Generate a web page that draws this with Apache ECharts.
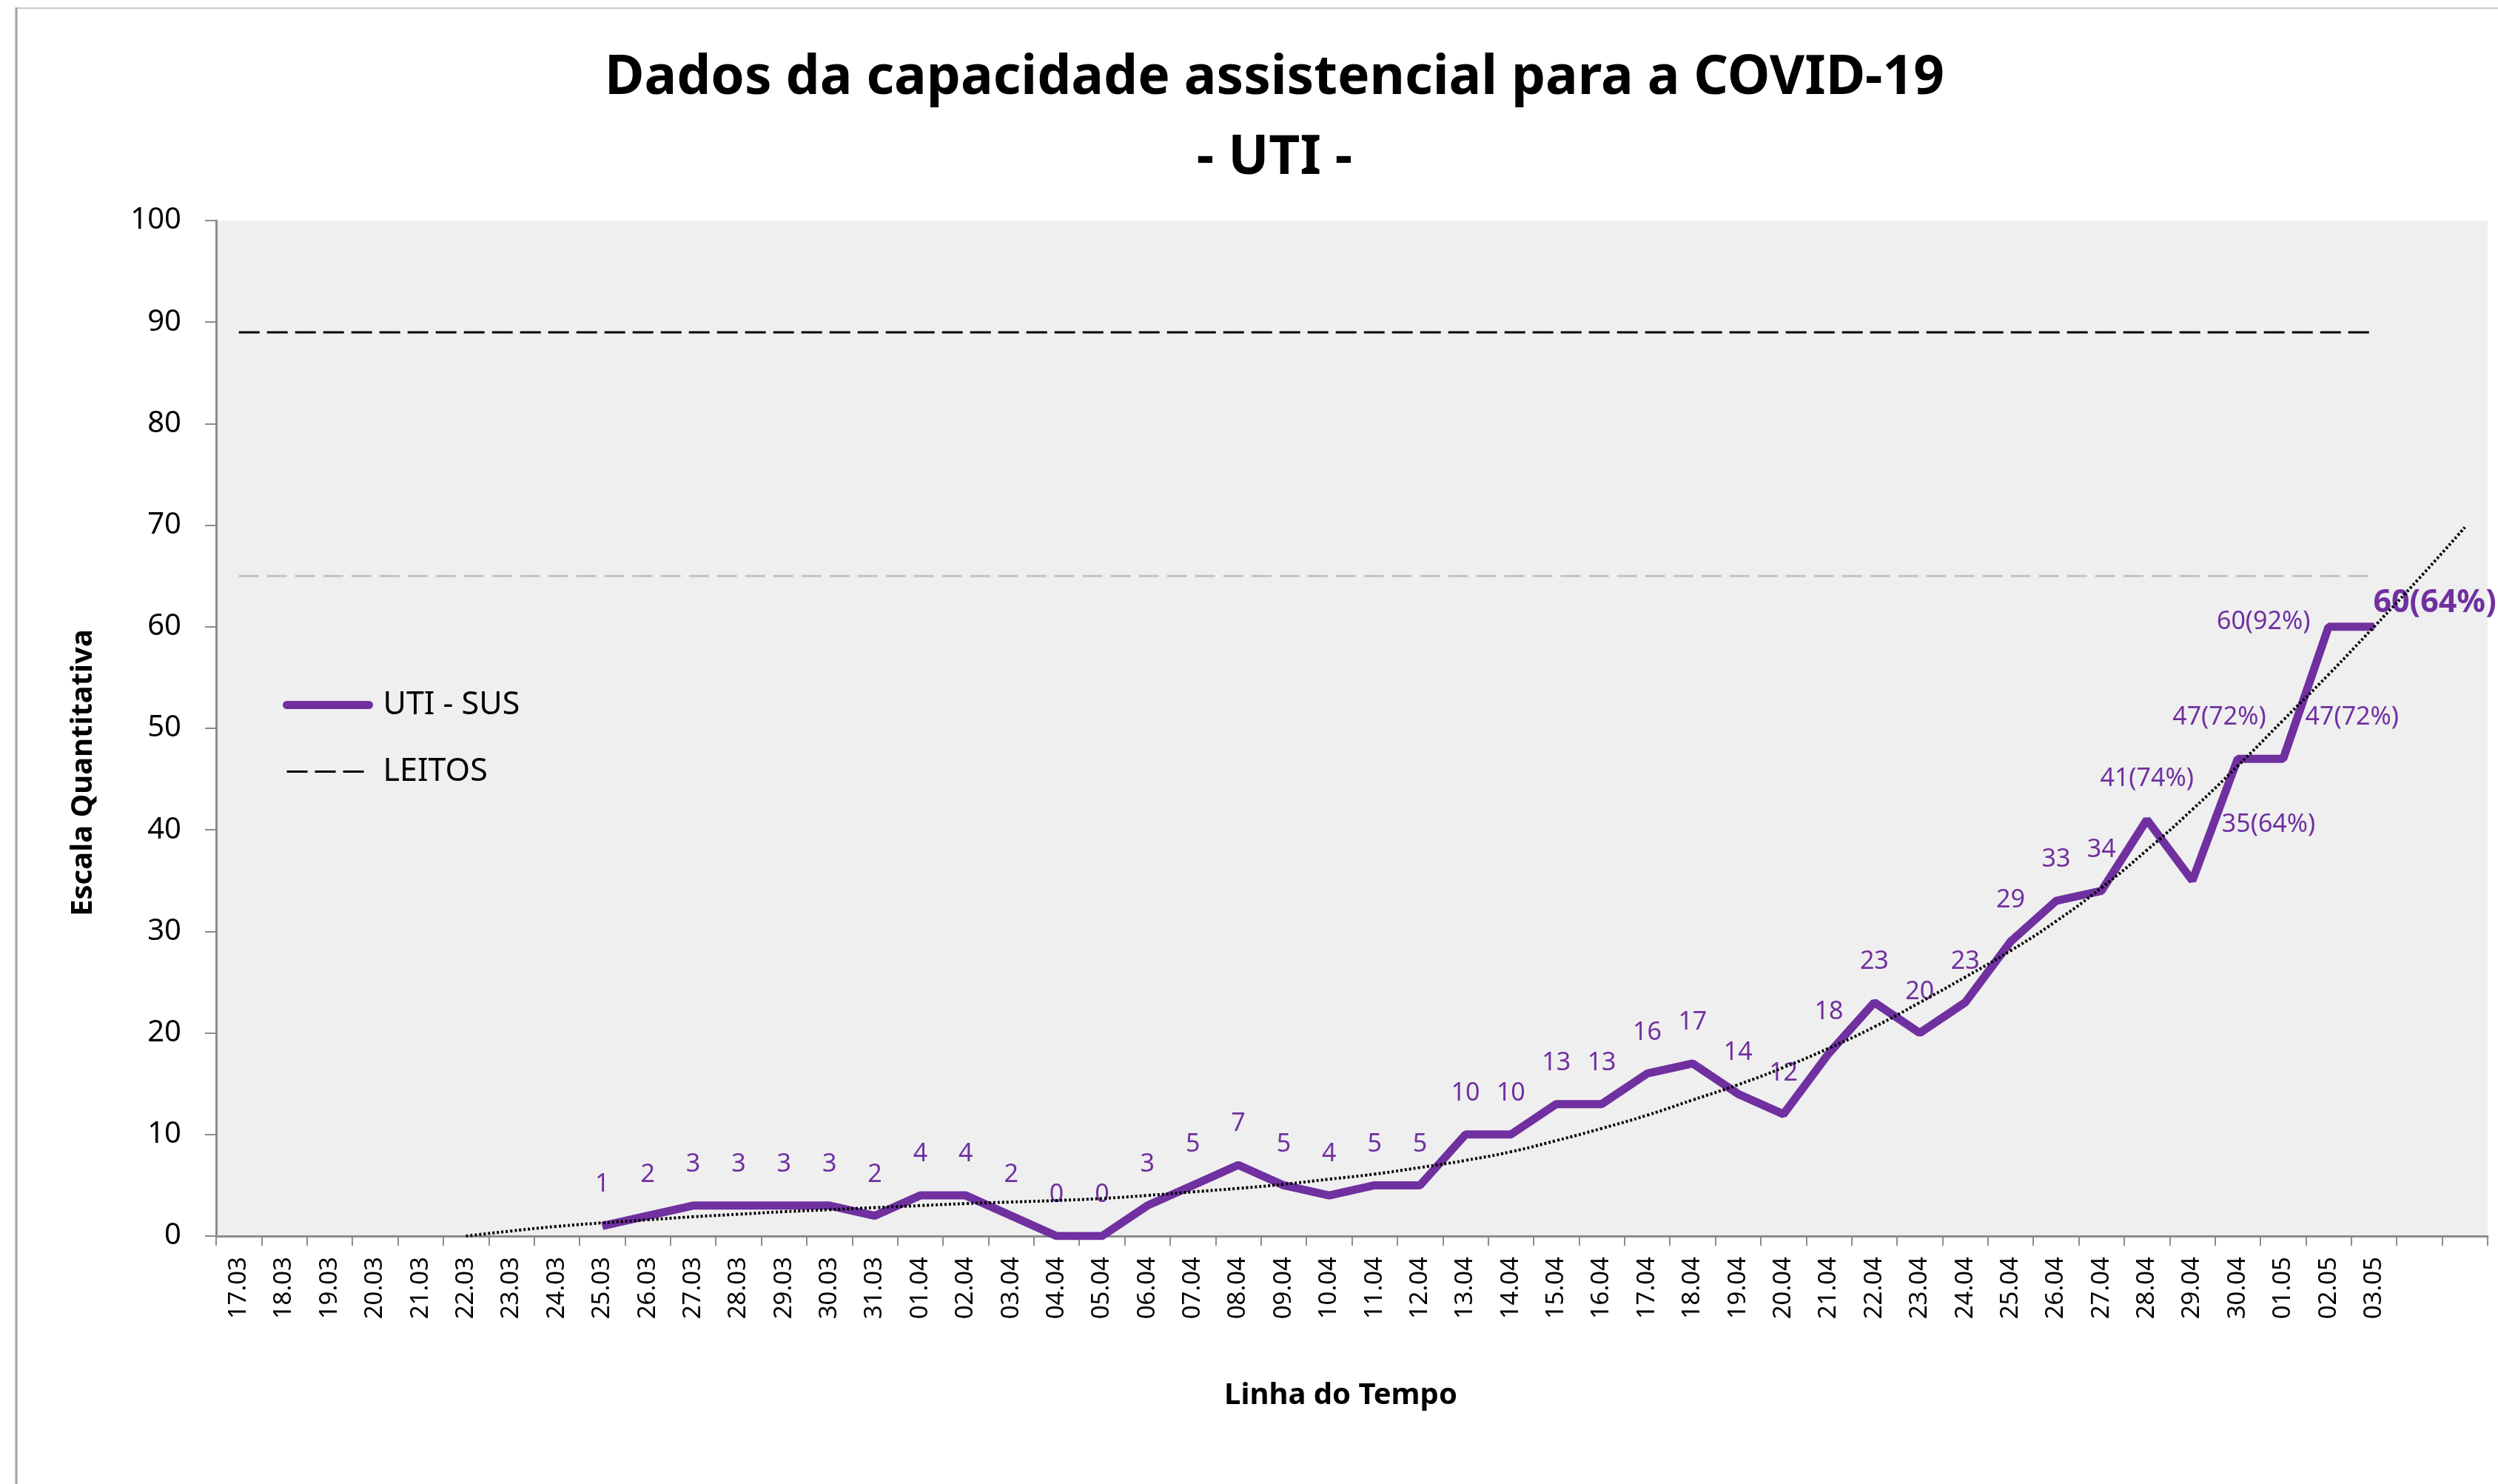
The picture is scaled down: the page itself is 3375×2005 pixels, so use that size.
<!DOCTYPE html>
<html><head><meta charset="utf-8">
<script src="https://cdn.jsdelivr.net/npm/echarts@6/dist/echarts.min.js"></script>
<style>html,body{margin:0;padding:0;background:#fff}#c{width:3375px;height:2005px}</style>
</head><body><div id="c"></div>
<script>
// ---------- DATA ----------
const categories = ['17.03','18.03','19.03','20.03','21.03','22.03','23.03','24.03','25.03','26.03','27.03','28.03','29.03','30.03','31.03',
  '01.04','02.04','03.04','04.04','05.04','06.04','07.04','08.04','09.04','10.04','11.04','12.04','13.04','14.04','15.04',
  '16.04','17.04','18.04','19.04','20.04','21.04','22.04','23.04','24.04','25.04','26.04','27.04','28.04','29.04','30.04',
  '01.05','02.05','03.05','',''];
const utiSus = [null,null,null,null,null,null,null,null,
  1,2,3,3,3,3,2,
  4,4,2,0,0,3,5,7,5,4,5,5,10,10,13,13,16,17,14,12,18,23,20,23,29,33,34,41,35,47,
  47,60,60,
  null,null];
const utiLabelText = {42:'41(74%)',43:'35(64%)',44:'47(72%)',45:'47(72%)',46:'60(92%)',47:'60(64%)'};
const leitos = [89,89,89,89,89,89,89,89,89,89,89,89,89,89,89,89,89,89,89,89,89,89,89,89,
  89,89,89,89,89,89,89,89,89,89,89,89,89,89,89,89,89,89,89,89,89,89,89,89,null,null];
const ref65 = [65,65,65,65,65,65,65,65,65,65,65,65,65,65,65,65,65,65,65,65,65,65,65,65,
  65,65,65,65,65,65,65,65,65,65,65,65,65,65,65,65,65,65,65,65,65,65,65,65,null,null];
const trend = [null,null,null,null,null,
  0,0.5,0.95,1.3,1.6,1.9,2.15,2.4,2.6,2.8,3.0,3.2,3.35,3.5,3.7,4.0,4.35,4.7,5.1,5.6,6.1,6.75,7.45,8.3,9.4,
  10.6,11.9,13.4,14.9,16.6,18.5,20.6,23.0,25.5,28.1,31.0,34.3,38.0,42.0,46.3,50.8,55.3,60.0,64.8,69.8];
const yTicks = {min:0, max:100, interval:10};

// ---------- STYLE ----------
const PURPLE = '#7030A0';
const FONT = 'Noto Sans';
const labelPlacement = {
  43: {offset:[103,-20]},
  44: {offset:[-25,0]},
  45: {offset:[93,0]},
  46: {offset:[-88,49]},
  47: {offset:[82,28], fontWeight:'bold', fontSize:43, lineHeight:43}
};

const utiData = utiSus.map((v,i)=>{
  if (v === null) return null;
  const item = {value:v};
  if (labelPlacement[i]) item.label = labelPlacement[i];
  return item;
});

const chart = echarts.init(document.getElementById('c'), null, {renderer:'canvas'});
chart.setOption({
  backgroundColor:'#ffffff',
  animation:false,
  title:{
    text:'Dados da capacidade assistencial para a COVID-19\n- UTI -',
    left:1717, top:47, textAlign:'center',
    textStyle:{fontFamily:FONT, fontWeight:'bold', fontSize:73, lineHeight:108, color:'#000'}
  },
  legend:{
    data:[
      {name:'UTI - SUS', itemStyle:{opacity:0}, lineStyle:{width:11, cap:'round', color:PURPLE}},
      {name:'LEITOS', itemStyle:{opacity:0}, lineStyle:{width:3, type:[28,10], color:'#000'}}
    ],
    orient:'vertical', left:382, top:931, itemGap:47, padding:0,
    itemWidth:111, itemHeight:12,
    textStyle:{fontFamily:FONT, fontSize:43, color:'#000', padding:[0,0,0,14]}
  },
  grid:{left:292, right:14, top:298, bottom:335, show:true, backgroundColor:'#efefef', borderWidth:0},
  xAxis:{
    type:'category', data:categories, boundaryGap:true,
    name:'Linha do Tempo', nameLocation:'middle', nameGap:196,
    nameTextStyle:{fontFamily:FONT, fontWeight:'bold', fontSize:40, color:'#000', padding:[0,30,0,0]},
    axisLine:{lineStyle:{color:'#8c8c8c', width:3}},
    axisTick:{show:true, interval:0, length:13, lineStyle:{color:'#8c8c8c', width:2}},
    axisLabel:{interval:0, rotate:90, fontFamily:FONT, fontSize:33, color:'#000', margin:28},
    splitLine:{show:false}
  },
  yAxis:{
    type:'value', min:yTicks.min, max:yTicks.max, interval:yTicks.interval,
    name:'Escala Quantitativa', nameLocation:'middle', nameGap:159, nameRotate:90,
    nameTextStyle:{fontFamily:FONT, fontWeight:'bold', fontSize:40, color:'#000', padding:[0,120,0,0]},
    axisLine:{show:true, lineStyle:{color:'#8c8c8c', width:3}},
    axisTick:{show:true, length:15, lineStyle:{color:'#8c8c8c', width:2}},
    axisLabel:{fontFamily:FONT, fontSize:40, color:'#000', margin:47},
    splitLine:{show:false}
  },
  series:[
    {
      name:'UTI - SUS', type:'line', data:utiData, z:3,
      symbol:'circle', symbolSize:1, showAllSymbol:true,
      itemStyle:{color:PURPLE},
      lineStyle:{color:PURPLE, width:11},
      label:{show:true, position:'top', distance:38, fontFamily:FONT, fontSize:34, lineHeight:34, color:PURPLE,
        formatter:p=> utiLabelText[p.dataIndex] !== undefined ? utiLabelText[p.dataIndex] : String(p.value)}
    },
    {
      name:'LEITOS', type:'line', data:leitos, z:2, symbol:'none',
      itemStyle:{color:'#000'},
      lineStyle:{color:'#000', width:3, type:[28,10]}
    },
    {
      name:'Referência', type:'line', data:ref65, z:2, symbol:'none',
      itemStyle:{color:'#c4c4c4'},
      lineStyle:{color:'#c4c4c4', width:3, type:[27,11]}
    },
    {
      name:'Tendência', type:'line', data:trend, z:4, symbol:'none', smooth:true,
      itemStyle:{color:'#000'},
      lineStyle:{color:'#000', width:4, type:[3,3]}
    }
  ],
  graphic:[
    {type:'line', shape:{x1:21, y1:11, x2:3375, y2:11}, style:{stroke:'#c8c8c8', lineWidth:2}},
    {type:'line', shape:{x1:22, y1:10, x2:22, y2:2005}, style:{stroke:'#a0a0a0', lineWidth:3}}
  ]
});
</script></body></html>
